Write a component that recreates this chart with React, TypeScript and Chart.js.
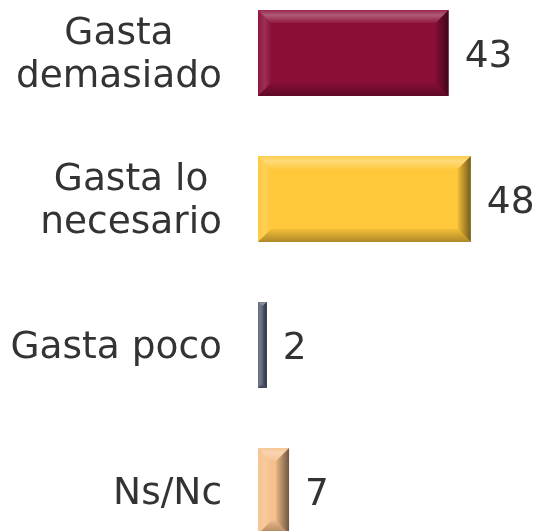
import React, { useEffect, useRef } from 'react';
import { Chart, registerables } from 'chart.js';

Chart.register(...registerables);

const categories: string[][] = [['Gasta', 'demasiado'], ['Gasta lo', 'necesario'], ['Gasta poco'], ['Ns/Nc']];
const values: number[] = [43, 48, 2, 7];
const barColors: string[] = ['#8B0E37', '#FFC83A', '#5B6577', '#F6C08C'];
const xMax = 60;

const FONT = '"DejaVu Sans", sans-serif';
const FONT_SIZE = 37.5;
const LINE_H = 43;
const TEXT_COLOR = '#333333';

function poly(ctx: CanvasRenderingContext2D, pts: number[][], fill: any) {
  ctx.beginPath();
  ctx.moveTo(pts[0][0], pts[0][1]);
  for (let i = 1; i < pts.length; i++) ctx.lineTo(pts[i][0], pts[i][1]);
  ctx.closePath();
  ctx.fillStyle = fill;
  ctx.fill();
}

const bevelPlugin = {
  id: 'bevel',
  afterDatasetsDraw(chart: any) {
    const ctx: CanvasRenderingContext2D = chart.ctx;
    const meta = chart.getDatasetMeta(0);
    meta.data.forEach((el: any) => {
      const { x, y, base, height } = el.getProps(['x', 'y', 'base', 'height'], true);
      const x0 = Math.min(x, base), x1 = Math.max(x, base);
      const y0 = y - height / 2, y1 = y + height / 2;
      const w = x1 - x0, h = y1 - y0;
      const b = Math.min(13, w / 2, h / 2);
      ctx.save();
      // top
      let g = ctx.createLinearGradient(0, y0, 0, y0 + b);
      g.addColorStop(0, 'rgba(255,255,255,0.10)');
      g.addColorStop(0.4, 'rgba(255,255,255,0.32)');
      g.addColorStop(1, 'rgba(255,255,255,0.05)');
      poly(ctx, [[x0, y0], [x1, y0], [x1 - b, y0 + b], [x0 + b, y0 + b]], g);
      // left
      g = ctx.createLinearGradient(x0, 0, x0 + b, 0);
      g.addColorStop(0, 'rgba(255,255,255,0.04)');
      g.addColorStop(0.5, 'rgba(255,255,255,0.14)');
      g.addColorStop(1, 'rgba(255,255,255,0.02)');
      poly(ctx, [[x0, y0], [x0 + b, y0 + b], [x0 + b, y1 - b], [x0, y1]], g);
      // right
      g = ctx.createLinearGradient(x1 - b, 0, x1, 0);
      g.addColorStop(0, 'rgba(0,0,0,0.06)');
      g.addColorStop(1, 'rgba(0,0,0,0.55)');
      poly(ctx, [[x1, y0], [x1, y1], [x1 - b, y1 - b], [x1 - b, y0 + b]], g);
      // bottom
      g = ctx.createLinearGradient(0, y1 - b, 0, y1);
      g.addColorStop(0, 'rgba(0,0,0,0.05)');
      g.addColorStop(1, 'rgba(0,0,0,0.32)');
      poly(ctx, [[x0, y1], [x1, y1], [x1 - b, y1 - b], [x0 + b, y1 - b]], g);
      ctx.restore();
    });
  },
};

const labelPlugin = {
  id: 'labels',
  afterDraw(chart: any) {
    const ctx: CanvasRenderingContext2D = chart.ctx;
    const meta = chart.getDatasetMeta(0);
    const yScale = chart.scales.y;
    const left = chart.chartArea.left;
    ctx.save();
    ctx.font = `${FONT_SIZE}px ${FONT}`;
    ctx.fillStyle = TEXT_COLOR;
    ctx.textBaseline = 'alphabetic';
    const capHalf = ctx.measureText('H').actualBoundingBoxAscent / 2;
    const labels: string[][] = chart.data.labels;
    labels.forEach((lines, i) => {
      const cy = yScale.getPixelForValue(i);
      const maxW = Math.max(...lines.map((l) => ctx.measureText(l).width));
      const cx = left - 36 - maxW / 2;
      ctx.textAlign = 'center';
      lines.forEach((line, j) => {
        const by = cy + capHalf - 1 + (j - (lines.length - 1) / 2) * LINE_H;
        ctx.fillText(line, cx, by);
      });
    });
    ctx.textAlign = 'left';
    meta.data.forEach((el: any, i: number) => {
      const { x, y } = el.getProps(['x', 'y'], true);
      const v = chart.data.datasets[0].data[i];
      ctx.fillText(String(v), x + 16, y + capHalf);
    });
    ctx.restore();
  },
};

export default function App() {
  const ref = useRef<HTMLCanvasElement>(null);
  useEffect(() => {
    if (!ref.current) return;
    const chart = new Chart(ref.current, {
      type: 'bar',
      data: {
        labels: categories as any,
        datasets: [
          {
            data: values,
            backgroundColor: barColors,
            borderWidth: 0,
            barPercentage: 0.59,
            categoryPercentage: 1,
          },
        ],
      },
      options: {
        indexAxis: 'y',
        animation: false,
        responsive: true,
        maintainAspectRatio: false,
        layout: { padding: { left: 258, right: 15, top: 0, bottom: 0 } },
        plugins: { legend: { display: false }, tooltip: { enabled: false } },
        scales: {
          x: { display: false, min: 0, max: xMax },
          y: { display: false },
        },
      },
      plugins: [bevelPlugin, labelPlugin],
    });
    return () => chart.destroy();
  }, []);
  return (
    <div style={{ position: 'fixed', left: 0, top: 0, width: 539, height: 531, overflow: 'hidden', background: '#fff' }}>
      <div style={{ position: 'absolute', left: 0, top: -20, width: 539, height: 584 }}>
        <canvas ref={ref} />
      </div>
    </div>
  );
}
